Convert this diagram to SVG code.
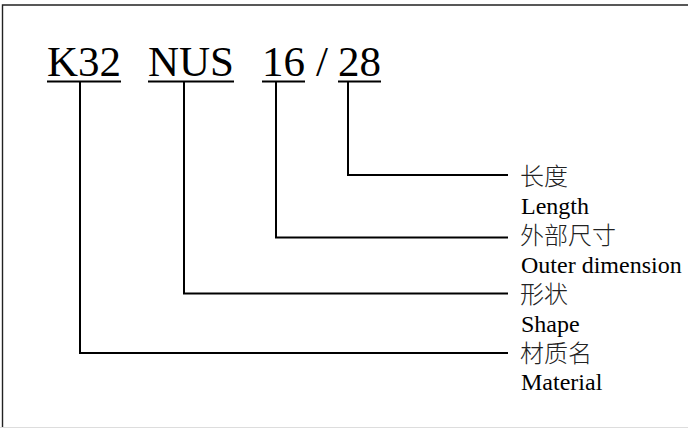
<svg xmlns="http://www.w3.org/2000/svg" width="688" height="428" viewBox="0 0 688 428">
<style>
.code{font-family:"Liberation Serif","Times New Roman",serif;font-size:43px;fill:#000}
.ul{stroke:#000;stroke-width:2.2;fill:none}
.conn{stroke:#000;stroke-width:2;fill:none}
.cjk{font-family:"Noto Sans CJK SC","Noto Sans CJK JP",sans-serif;font-size:24px;font-weight:300;fill:#222}
.en{font-family:"Liberation Serif","Times New Roman",serif;font-size:24px;fill:#000}
</style>
<rect width="688" height="428" fill="#fff"/>
<g id="frame">
<path d="M688 5 H2.5 V428" fill="none" stroke="#222" stroke-width="1.4"/>
<line x1="0" y1="427.5" x2="688" y2="427.5" stroke="#ddd" stroke-width="1"/>
</g>
<g id="code-k32">
<text class="code" x="47" y="76">K32</text>
<line class="ul" x1="47" y1="81.5" x2="121" y2="81.5"/>
</g>
<g id="code-nus">
<text class="code" x="148" y="76">NUS</text>
<line class="ul" x1="148" y1="81.5" x2="234" y2="81.5"/>
</g>
<g id="code-16">
<text class="code" x="262" y="76">16</text>
<line class="ul" x1="262" y1="81.5" x2="305" y2="81.5"/>
</g>
<g id="code-slash">
<text class="code" x="316" y="76">/</text>
</g>
<g id="code-28">
<text class="code" x="338" y="76">28</text>
<line class="ul" x1="338" y1="81.5" x2="381" y2="81.5"/>
</g>
<g id="connectors">
<path class="conn" d="M348 82 V175 H508"/>
<path class="conn" d="M276 82 V237.5 H508"/>
<path class="conn" d="M184 82 V293.5 H508"/>
<path class="conn" d="M80 82 V353 H508"/>
</g>
<g id="label-length">
<text class="cjk" x="520" y="185">长度</text>
<text class="en" x="521" y="214">Length</text>
</g>
<g id="label-outer">
<text class="cjk" x="520" y="244">外部尺寸</text>
<text class="en" x="521" y="273">Outer dimension</text>
</g>
<g id="label-shape">
<text class="cjk" x="520" y="302.5">形状</text>
<text class="en" x="521" y="331.5">Shape</text>
</g>
<g id="label-material">
<text class="cjk" x="520" y="361.5">材质名</text>
<text class="en" x="521" y="390">Material</text>
</g>
</svg>
